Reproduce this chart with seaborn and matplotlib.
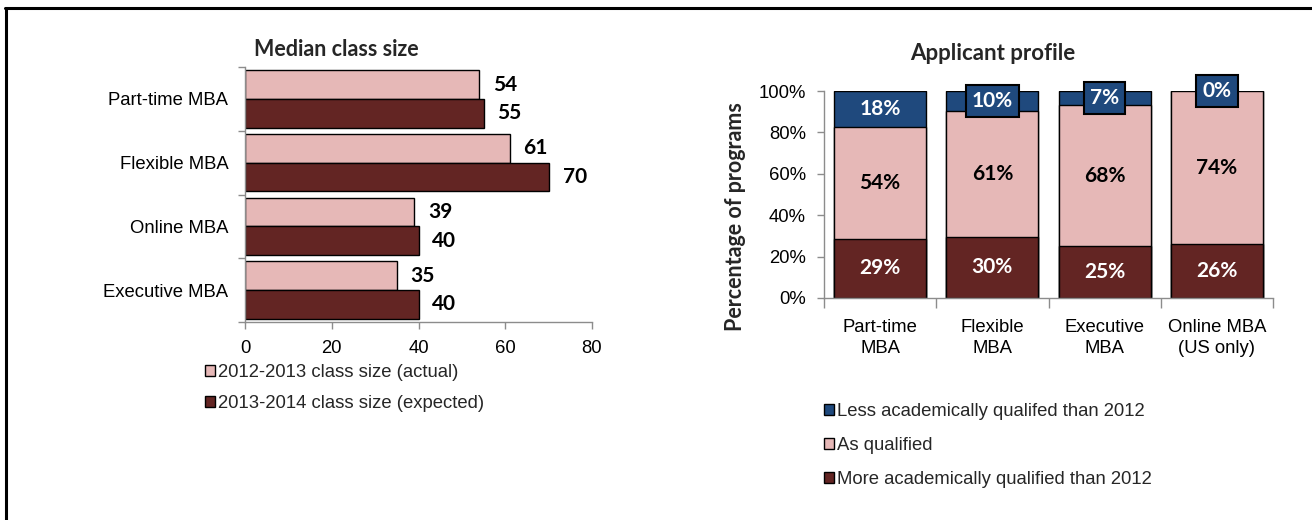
import matplotlib
matplotlib.use("Agg")
import matplotlib.pyplot as plt
from matplotlib.lines import Line2D
from matplotlib.patches import Patch
import seaborn as sns
import pandas as pd
import numpy as np

# ---------------- data ----------------
programs = ["Part-time MBA", "Flexible MBA", "Online MBA", "Executive MBA"]
size_2012 = [54, 61, 39, 35]
size_2013 = [55, 70, 40, 40]
series_names = ["2012-2013 class size (actual)", "2013-2014 class size (expected)"]

profile_cats = ["Part-time\nMBA", "Flexible\nMBA", "Executive\nMBA", "Online MBA\n(US only)"]
more_qual = [28.6, 29.6, 25.0, 26.0]
as_qual = [53.8, 60.8, 68.0, 74.0]
less_qual = [17.6, 9.6, 7.0, 0.0]
profile_names = ["Less academically qualifed than 2012", "As qualified",
                 "More academically qualified than 2012"]

PINK = "#E6B8B7"
DARK = "#632523"
BLUE = "#1F497D"
GRAY = "#8c8c8c"

sns.set_theme(style="white")
plt.rcParams["font.family"] = ["Liberation Sans", "DejaVu Sans"]
BOLD = ["Lato", "DejaVu Sans"]
TICK_FS = 13.3
LBL_FS = 15

W, H = 1312, 520
fig = plt.figure(figsize=(W / 100, H / 100), dpi=100)

# frame lines
fig.add_artist(Line2D([5 / W, 1], [1 - 8 / H, 1 - 8 / H], color="black", lw=2.2,
                      transform=fig.transFigure))
fig.add_artist(Line2D([6 / W, 6 / W], [0, 1 - 8 / H], color="black", lw=2.2,
                      transform=fig.transFigure))

# ---------------- left chart ----------------
df1 = pd.DataFrame({
    "program": programs * 2,
    "value": size_2012 + size_2013,
    "series": [series_names[0]] * 4 + [series_names[1]] * 4,
})
ax1 = fig.add_axes([245 / W, 1 - 322 / H, (592 - 245) / W, (322 - 67) / H])
sns.barplot(data=df1, y="program", x="value", hue="series", orient="h",
            palette=[PINK, DARK], saturation=1, edgecolor="black", linewidth=1,
            width=0.9, ax=ax1, legend=True)
ax1.set_xlim(0, 80)
ax1.set_ylim(3.5, -0.5)
ax1.set_xticks([0, 20, 40, 60, 80])
ax1.set_xlabel("")
ax1.set_ylabel("")
for c in ax1.containers:
    ax1.bar_label(c, padding=10, fontsize=LBL_FS, fontweight="bold", family=BOLD,
                  color="black")
ax1.set_yticks(np.arange(len(programs)))
ax1.set_yticklabels(programs)
ax1.set_yticks(np.arange(len(programs) + 1) - 0.5, minor=True)
ax1.tick_params(axis="y", which="major", length=0, pad=12, labelsize=TICK_FS,
                colors="black")
ax1.tick_params(axis="y", which="minor", length=5, width=1, color=GRAY, left=True)
ax1.tick_params(axis="x", which="major", length=5, width=1, color=GRAY, bottom=True,
                pad=8, labelsize=TICK_FS, labelcolor="black")
for s in ["top", "right"]:
    ax1.spines[s].set_visible(False)
for s in ["left", "bottom"]:
    ax1.spines[s].set_color(GRAY)
    ax1.spines[s].set_linewidth(1)
h1, l1 = ax1.get_legend_handles_labels()
ax1.get_legend().remove()
fig.legend(h1, l1, loc="upper left", bbox_to_anchor=(205 / W, 1 - 364 / H),
           frameon=False, fontsize=TICK_FS, handlelength=0.55, handleheight=0.55,
           handletextpad=0.15, labelspacing=0.75, borderaxespad=0, borderpad=0)
fig.text(336 / W, 1 - 49 / H, "Median class size", ha="center", va="center",
         fontsize=15.5, fontweight="bold", family=BOLD)

# ---------------- right chart ----------------
ax2 = fig.add_axes([824 / W, 1 - 298 / H, (1273 - 824) / W, (298 - 91) / H])
cum_mid = [m + a for m, a in zip(more_qual, as_qual)]
cum_top = [m + a + l for m, a, l in zip(more_qual, as_qual, less_qual)]
sns.barplot(x=profile_cats, y=cum_top, color=BLUE, saturation=1, edgecolor="black",
            linewidth=1, width=0.82, ax=ax2)
sns.barplot(x=profile_cats, y=cum_mid, color=PINK, saturation=1, edgecolor="black",
            linewidth=1, width=0.82, ax=ax2)
sns.barplot(x=profile_cats, y=more_qual, color=DARK, saturation=1, edgecolor="black",
            linewidth=1, width=0.82, ax=ax2)
if ax2.get_legend() is not None:
    ax2.get_legend().remove()
ax2.set_ylim(0, 100)
ax2.set_xlim(-0.5, len(profile_cats) - 0.5)
ax2.set_yticks([0, 20, 40, 60, 80, 100])
ax2.yaxis.set_major_formatter(matplotlib.ticker.FuncFormatter(lambda v, p: f"{v:.0f}%"))
ax2.set_xticks(np.arange(len(profile_cats)))
ax2.set_xticklabels(profile_cats, linespacing=1.3)
ax2.set_xticks(np.arange(len(profile_cats) + 1) - 0.5, minor=True)
ax2.tick_params(axis="x", which="major", length=0, pad=15, labelsize=TICK_FS,
                colors="black")
ax2.tick_params(axis="x", which="minor", length=7, width=1, color=GRAY, bottom=True)
ax2.tick_params(axis="y", which="major", length=5, width=1, color=GRAY, left=True,
                pad=8, labelsize=TICK_FS, labelcolor="black")
for s in ["top", "right"]:
    ax2.spines[s].set_visible(False)
for s in ["left", "bottom"]:
    ax2.spines[s].set_color(GRAY)
    ax2.spines[s].set_linewidth(1)
ax2.set_xlabel("")
ax2.set_ylabel("")

for i in range(len(profile_cats)):
    ax2.text(i, more_qual[i] / 2, f"{more_qual[i]:.0f}%", ha="center", va="center",
             color="white", fontsize=LBL_FS, fontweight="bold", family=BOLD)
    ax2.text(i, more_qual[i] + as_qual[i] / 2, f"{as_qual[i]:.0f}%", ha="center",
             va="center", color="black", fontsize=LBL_FS, fontweight="bold", family=BOLD)
    bbox = None
    if less_qual[i] < 15:
        bbox = dict(boxstyle="square,pad=0.3", facecolor=BLUE, edgecolor="black",
                    linewidth=1.5)
    ax2.text(i, cum_mid[i] + less_qual[i] / 2, f"{less_qual[i]:.0f}%", ha="center",
             va="center", color="white", fontsize=LBL_FS, fontweight="bold", family=BOLD,
             bbox=bbox, clip_on=False, zorder=5)

handles2 = [Patch(facecolor=BLUE, edgecolor="black", linewidth=1),
            Patch(facecolor=PINK, edgecolor="black", linewidth=1),
            Patch(facecolor=DARK, edgecolor="black", linewidth=1)]
fig.legend(handles2, profile_names, loc="upper left",
           bbox_to_anchor=(824 / W, 1 - 403 / H), frameon=False, fontsize=TICK_FS,
           handlelength=0.55, handleheight=0.55, handletextpad=0.15,
           labelspacing=0.93, borderaxespad=0, borderpad=0)
fig.text(993 / W, 1 - 53 / H, "Applicant profile", ha="center", va="center",
         fontsize=16, fontweight="bold", family=BOLD)
fig.text(735 / W, 1 - 217 / H, "Percentage of programs", ha="center", va="center",
         rotation=90, fontsize=15.5, fontweight="bold", family=BOLD)

fig.savefig("out.png", dpi=100)
